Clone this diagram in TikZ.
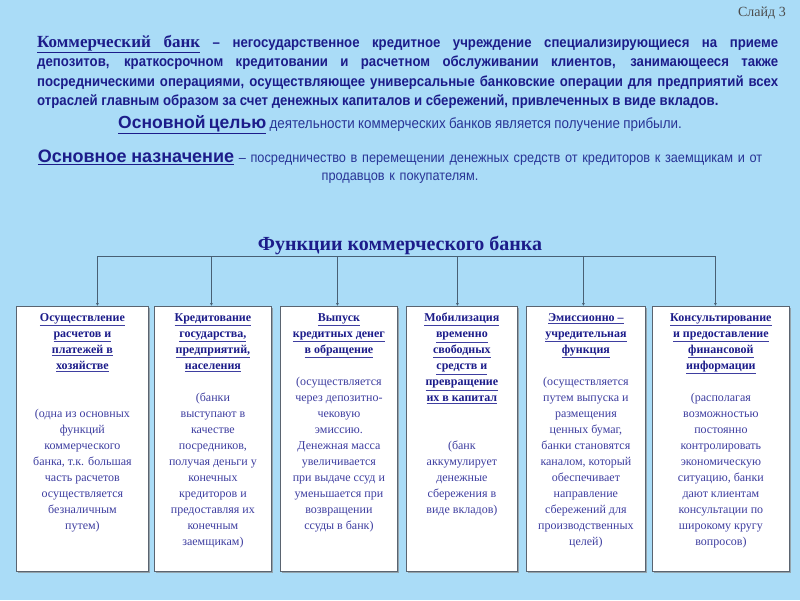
\documentclass[tikz,border=0pt]{standalone}
\usepackage{fontspec}
\setmainfont{Liberation Serif}
\newfontfamily\narrowsf[FakeStretch=0.91]{Liberation Sans}
\newfontfamily\plainsf{Liberation Sans}
\usepackage{tikz}
\usetikzlibrary{arrows.meta,shadows}

\definecolor{slidebg}{RGB}{170,220,247}
\definecolor{navy}{RGB}{28,28,138}
\definecolor{midblue}{RGB}{40,52,150}
\definecolor{celltext}{RGB}{62,62,160}
\definecolor{linkgray}{RGB}{72,96,116}
\definecolor{cellborder}{RGB}{90,100,112}

\newcommand{\ftitle}[1]{\underline{\textbf{\color{navy}#1}}}
\newcommand{\celltext}[2]{\parbox[t][251pt][t]{#1}{\centering #2}}

\begin{document}
\begin{tikzpicture}[x=1pt,y=-1pt,
	cell/.style={draw=cellborder, fill=white, anchor=north west, inner xsep=3pt, inner ysep=7pt, line width=0.8pt,
		drop shadow={shadow xshift=1.2pt, shadow yshift=-1.2pt, fill=black!45, opacity=0.7},
		font=\fontsize{12}{16}\selectfont, text=celltext},
	link/.style={draw=linkgray, line width=0.8pt},
	arr/.style={link, -{Latex[length=3pt,width=3pt]}}
	]
	\useasboundingbox[fill=slidebg] (0,0) rectangle (800,600);

	% header
	\node[anchor=north east, inner sep=0, font=\fontsize{14}{16}\selectfont, text=black!70] (slide) at (786,7) {Слайд 3};
	\node[anchor=north west, text width=741pt, align=justify, inner sep=0, text=navy,
		font=\fontsize{14.5}{19.5}\selectfont\narrowsf\bfseries] (def) at (37,35)
		{{\rmfamily\fontsize{17}{19.5}\selectfont\underline{Коммерческий\ \ \ банк}} – негосударственное кредитное учреждение специализирующиеся на приеме\linebreak
		депозитов, краткосрочном кредитовании и расчетном обслуживании клиентов, занимающееся также\linebreak
		посредническими операциями, осуществляющее универсальные банковские операции для предприятий всех\linebreak
		отраслей главным образом за счет денежных капиталов и сбережений, привлеченных в виде вкладов.};
	\node[anchor=north, text width=740pt, align=center, inner sep=0] (goal) at (400,115)
		{{\plainsf\bfseries\fontsize{17.5}{18}\selectfont\color{navy}\underline{Основной целью}}
		{\narrowsf\fontsize{14.7}{18}\selectfont\color{midblue}деятельности коммерческих банков является получение прибыли.}};
	\node[anchor=north, text width=740pt, align=center, inner sep=0, text=midblue,
		font=\fontsize{14}{18}\selectfont\narrowsf] (aim) at (400,150)
		{{\plainsf\bfseries\fontsize{18}{18}\selectfont\color{navy}\underline{Основное назначение}} – посредничество в перемещении денежных средств от кредиторов к заемщикам и от\\
		продавцов к покупателям.};

	\node[inner sep=0, text=navy, font=\fontsize{20}{22}\selectfont\bfseries] (fhead) at (400,245) {Функции коммерческого банка};

	% functions
	\node[cell] (f1) at (16,306) {\celltext{126pt}{\ftitle{Осуществление}\\ \ftitle{расчетов и}\\ \ftitle{платежей в}\\ \ftitle{хозяйстве}\\[2\baselineskip]
		(одна из основных\\ функций\\ коммерческого\\ банка, т.к. большая\\ часть расчетов\\ осуществляется\\ безналичным\\ путем)}};
	\node[cell] (f2) at (154,306) {\celltext{111pt}{\ftitle{Кредитование}\\ \ftitle{государства,}\\ \ftitle{предприятий,}\\ \ftitle{населения}\\[\baselineskip]
		(банки\\ выступают в\\ качестве\\ посредников,\\ получая деньги у\\ конечных\\ кредиторов и\\ предоставляя их\\ конечным\\ заемщикам)}};
	\node[cell] (f3) at (280,306) {\celltext{111pt}{\ftitle{Выпуск}\\ \ftitle{кредитных денег}\\ \ftitle{в обращение}\\[\baselineskip]
		(осуществляется\\ через депозитно-\\ чековую\\ эмиссию.\\ Денежная масса\\ увеличивается\\ при выдаче ссуд и\\ уменьшается при\\ возвращении\\ ссуды в банк)}};
	\node[cell] (f4) at (406,306) {\celltext{105pt}{\ftitle{Мобилизация}\\ \ftitle{временно}\\ \ftitle{свободных}\\ \ftitle{средств и}\\ \ftitle{превращение}\\ \ftitle{их в капитал}\\[2\baselineskip]
		(банк\\ аккумулирует\\ денежные\\ сбережения в\\ виде вкладов)}};
	\node[cell] (f5) at (526,306) {\celltext{113pt}{\ftitle{Эмиссионно –}\\ \ftitle{учредительная}\\ \ftitle{функция}\\[\baselineskip]
		(осуществляется\\ путем выпуска и\\ размещения\\ ценных бумаг,\\ банки становятся\\ каналом, который\\ обеспечивает\\ направление\\ сбережений для\\ производственных\\ целей)}};
	\node[cell] (f6) at (652,306) {\celltext{131pt}{\ftitle{Консультирование}\\ \ftitle{и предоставление}\\ \ftitle{финансовой}\\ \ftitle{информации}\\[\baselineskip]
		(располагая\\ возможностью\\ постоянно\\ контролировать\\ экономическую\\ ситуацию, банки\\ дают клиентам\\ консультации по\\ широкому кругу\\ вопросов)}};

	% connectors
	\coordinate (bus) at (400,256);
	\foreach \i/\dx in {1/15,2/-1.5,3/-1.5,4/-4.5,5/-2.5,6/-5.5}
		\coordinate (d\i) at ([xshift=\dx pt]f\i.north);
	\draw[link] (d1 |- bus) -- (d6 |- bus);
	\foreach \i in {1,...,6}
		\draw[arr] (d\i |- bus) -- (d\i);
\end{tikzpicture}
\end{document}
